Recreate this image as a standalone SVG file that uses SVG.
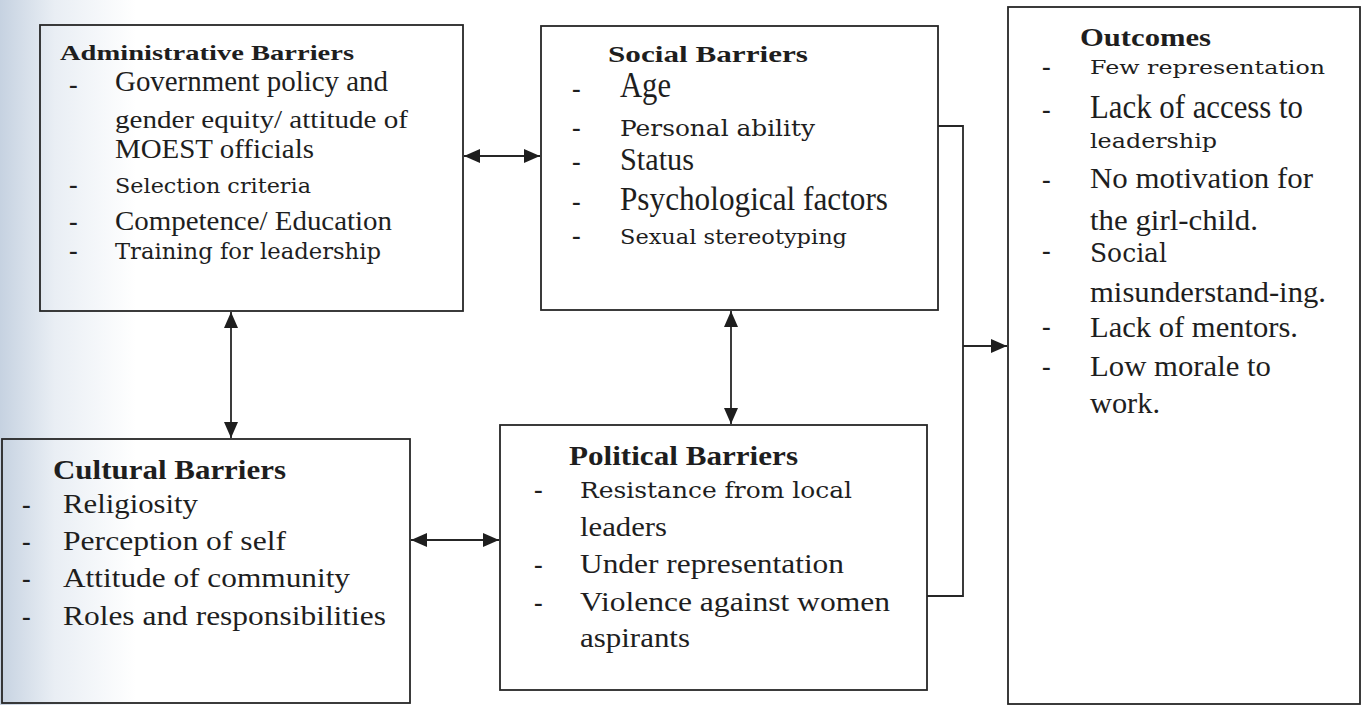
<svg xmlns="http://www.w3.org/2000/svg" width="1363" height="705" viewBox="0 0 1363 705">
<defs>
<linearGradient id="bg" x1="0" y1="0" x2="1" y2="0">
<stop offset="0" stop-color="#c6d2e1"/>
<stop offset="0.04" stop-color="#e9eef4"/>
<stop offset="0.1" stop-color="#ffffff"/>
</linearGradient>
<marker id="ah" viewBox="0 0 16 14" refX="16" refY="7" markerWidth="16" markerHeight="14" markerUnits="userSpaceOnUse" orient="auto-start-reverse">
<path d="M0,0 L16,7 L0,14 Z" fill="#1e1e1e"/>
</marker>
<style>
.box{fill:none;stroke:#262626;stroke-width:1.8}
.con{fill:none;stroke:#262626;stroke-width:1.8}
text{font-family:"Liberation Serif","Times New Roman",serif;fill:#1e1e1e}
.h{font-weight:bold}
.b{font-family:"DejaVu Serif","Liberation Serif",serif}
.d{font-weight:bold;font-size:26px}
</style>
</defs>
<rect x="0" y="0" width="1363" height="705" fill="url(#bg)"/>

<g id="connectors">
<line class="con" x1="464" y1="156" x2="540" y2="156" marker-start="url(#ah)" marker-end="url(#ah)"/>
<line class="con" x1="231" y1="312" x2="231" y2="438" marker-start="url(#ah)" marker-end="url(#ah)"/>
<line class="con" x1="731" y1="311" x2="731" y2="424" marker-start="url(#ah)" marker-end="url(#ah)"/>
<line class="con" x1="411" y1="540" x2="499" y2="540" marker-start="url(#ah)" marker-end="url(#ah)"/>
<polyline class="con" points="938,126 963,126 963,596 927,596"/>
<line class="con" x1="963" y1="346" x2="1007" y2="346" marker-end="url(#ah)"/>
</g>

<g id="administrative">
<rect class="box" x="40" y="25" width="423" height="286"/>
<text class="h" x="60" y="60" font-size="21" textLength="294" lengthAdjust="spacingAndGlyphs">Administrative Barriers</text>
<text class="d" x="69" y="93">-</text>
<text x="115" y="91" font-size="29" textLength="273" lengthAdjust="spacingAndGlyphs">Government policy and</text>
<text x="115" y="128" font-size="25" textLength="293" lengthAdjust="spacingAndGlyphs">gender equity/ attitude of</text>
<text x="115" y="158" font-size="27" textLength="199" lengthAdjust="spacingAndGlyphs">MOEST officials</text>
<text class="d" x="69" y="193">-</text>
<text class="b" x="115" y="193" font-size="21" textLength="196" lengthAdjust="spacingAndGlyphs">Selection criteria</text>
<text class="d" x="69" y="230">-</text>
<text x="115" y="230" font-size="27" textLength="277" lengthAdjust="spacingAndGlyphs">Competence/ Education</text>
<text class="d" x="69" y="259">-</text>
<text class="b" x="115" y="259" font-size="23" textLength="266" lengthAdjust="spacingAndGlyphs">Training for leadership</text>
</g>

<g id="social">
<rect class="box" x="541" y="26" width="397" height="284"/>
<text class="h" x="608" y="62" font-size="24" textLength="200" lengthAdjust="spacingAndGlyphs">Social Barriers</text>
<text class="d" x="572" y="97">-</text>
<text x="620" y="97" font-size="35" textLength="51" lengthAdjust="spacingAndGlyphs">Age</text>
<text class="d" x="572" y="136">-</text>
<text class="b" x="620" y="136" font-size="22" textLength="195" lengthAdjust="spacingAndGlyphs">Personal ability</text>
<text class="d" x="572" y="170">-</text>
<text x="620" y="170" font-size="32" textLength="74" lengthAdjust="spacingAndGlyphs">Status</text>
<text class="d" x="572" y="210">-</text>
<text x="620" y="210" font-size="34" textLength="268" lengthAdjust="spacingAndGlyphs">Psychological factors</text>
<text class="d" x="572" y="244">-</text>
<text class="b" x="620" y="244" font-size="20" textLength="227" lengthAdjust="spacingAndGlyphs">Sexual stereotyping</text>
</g>

<g id="cultural">
<rect class="box" x="2" y="439" width="408" height="264"/>
<text class="h" x="53" y="479" font-size="28" textLength="233" lengthAdjust="spacingAndGlyphs">Cultural Barriers</text>
<text class="d" x="22" y="513">-</text>
<text x="63" y="513" font-size="28" textLength="135" lengthAdjust="spacingAndGlyphs">Religiosity</text>
<text class="d" x="22" y="550">-</text>
<text x="63" y="550" font-size="28" textLength="223" lengthAdjust="spacingAndGlyphs">Perception of self</text>
<text class="d" x="22" y="587">-</text>
<text x="63" y="587" font-size="28" textLength="287" lengthAdjust="spacingAndGlyphs">Attitude of community</text>
<text class="d" x="22" y="625">-</text>
<text x="63" y="625" font-size="28" textLength="323" lengthAdjust="spacingAndGlyphs">Roles and responsibilities</text>
</g>

<g id="political">
<rect class="box" x="500" y="425" width="427" height="265"/>
<text class="h" x="569" y="465" font-size="27" textLength="229" lengthAdjust="spacingAndGlyphs">Political Barriers</text>
<text class="d" x="534" y="498">-</text>
<text class="b" x="580" y="498" font-size="23" textLength="272" lengthAdjust="spacingAndGlyphs">Resistance from local</text>
<text x="580" y="536" font-size="28" textLength="87" lengthAdjust="spacingAndGlyphs">leaders</text>
<text class="d" x="534" y="573">-</text>
<text x="580" y="573" font-size="28" textLength="264" lengthAdjust="spacingAndGlyphs">Under representation</text>
<text class="d" x="534" y="611">-</text>
<text x="580" y="611" font-size="28" textLength="310" lengthAdjust="spacingAndGlyphs">Violence against women</text>
<text x="580" y="647" font-size="28" textLength="110" lengthAdjust="spacingAndGlyphs">aspirants</text>
</g>

<g id="outcomes">
<rect class="box" x="1008" y="7" width="352" height="697"/>
<text class="h" x="1080" y="46" font-size="25" textLength="131" lengthAdjust="spacingAndGlyphs">Outcomes</text>
<text class="d" x="1042" y="75">-</text>
<text class="b" x="1090" y="74" font-size="19" textLength="235" lengthAdjust="spacingAndGlyphs">Few representation</text>
<text class="d" x="1042" y="118">-</text>
<text x="1090" y="118" font-size="34" textLength="213" lengthAdjust="spacingAndGlyphs">Lack of access to</text>
<text class="b" x="1090" y="148" font-size="21" textLength="127" lengthAdjust="spacingAndGlyphs">leadership</text>
<text class="d" x="1042" y="188">-</text>
<text x="1090" y="188" font-size="30" textLength="223" lengthAdjust="spacingAndGlyphs">No motivation for</text>
<text x="1090" y="230" font-size="30" textLength="168" lengthAdjust="spacingAndGlyphs">the girl-child.</text>
<text class="d" x="1042" y="259">-</text>
<text class="b" x="1090" y="262" font-size="26" textLength="77" lengthAdjust="spacingAndGlyphs">Social</text>
<text x="1090" y="302" font-size="30" textLength="236" lengthAdjust="spacingAndGlyphs">misunderstand-ing.</text>
<text class="d" x="1042" y="335">-</text>
<text x="1090" y="337" font-size="30" textLength="208" lengthAdjust="spacingAndGlyphs">Lack of mentors.</text>
<text class="d" x="1042" y="375">-</text>
<text x="1090" y="376" font-size="30" textLength="181" lengthAdjust="spacingAndGlyphs">Low morale to</text>
<text x="1090" y="413" font-size="30" textLength="70" lengthAdjust="spacingAndGlyphs">work.</text>
</g>
</svg>
